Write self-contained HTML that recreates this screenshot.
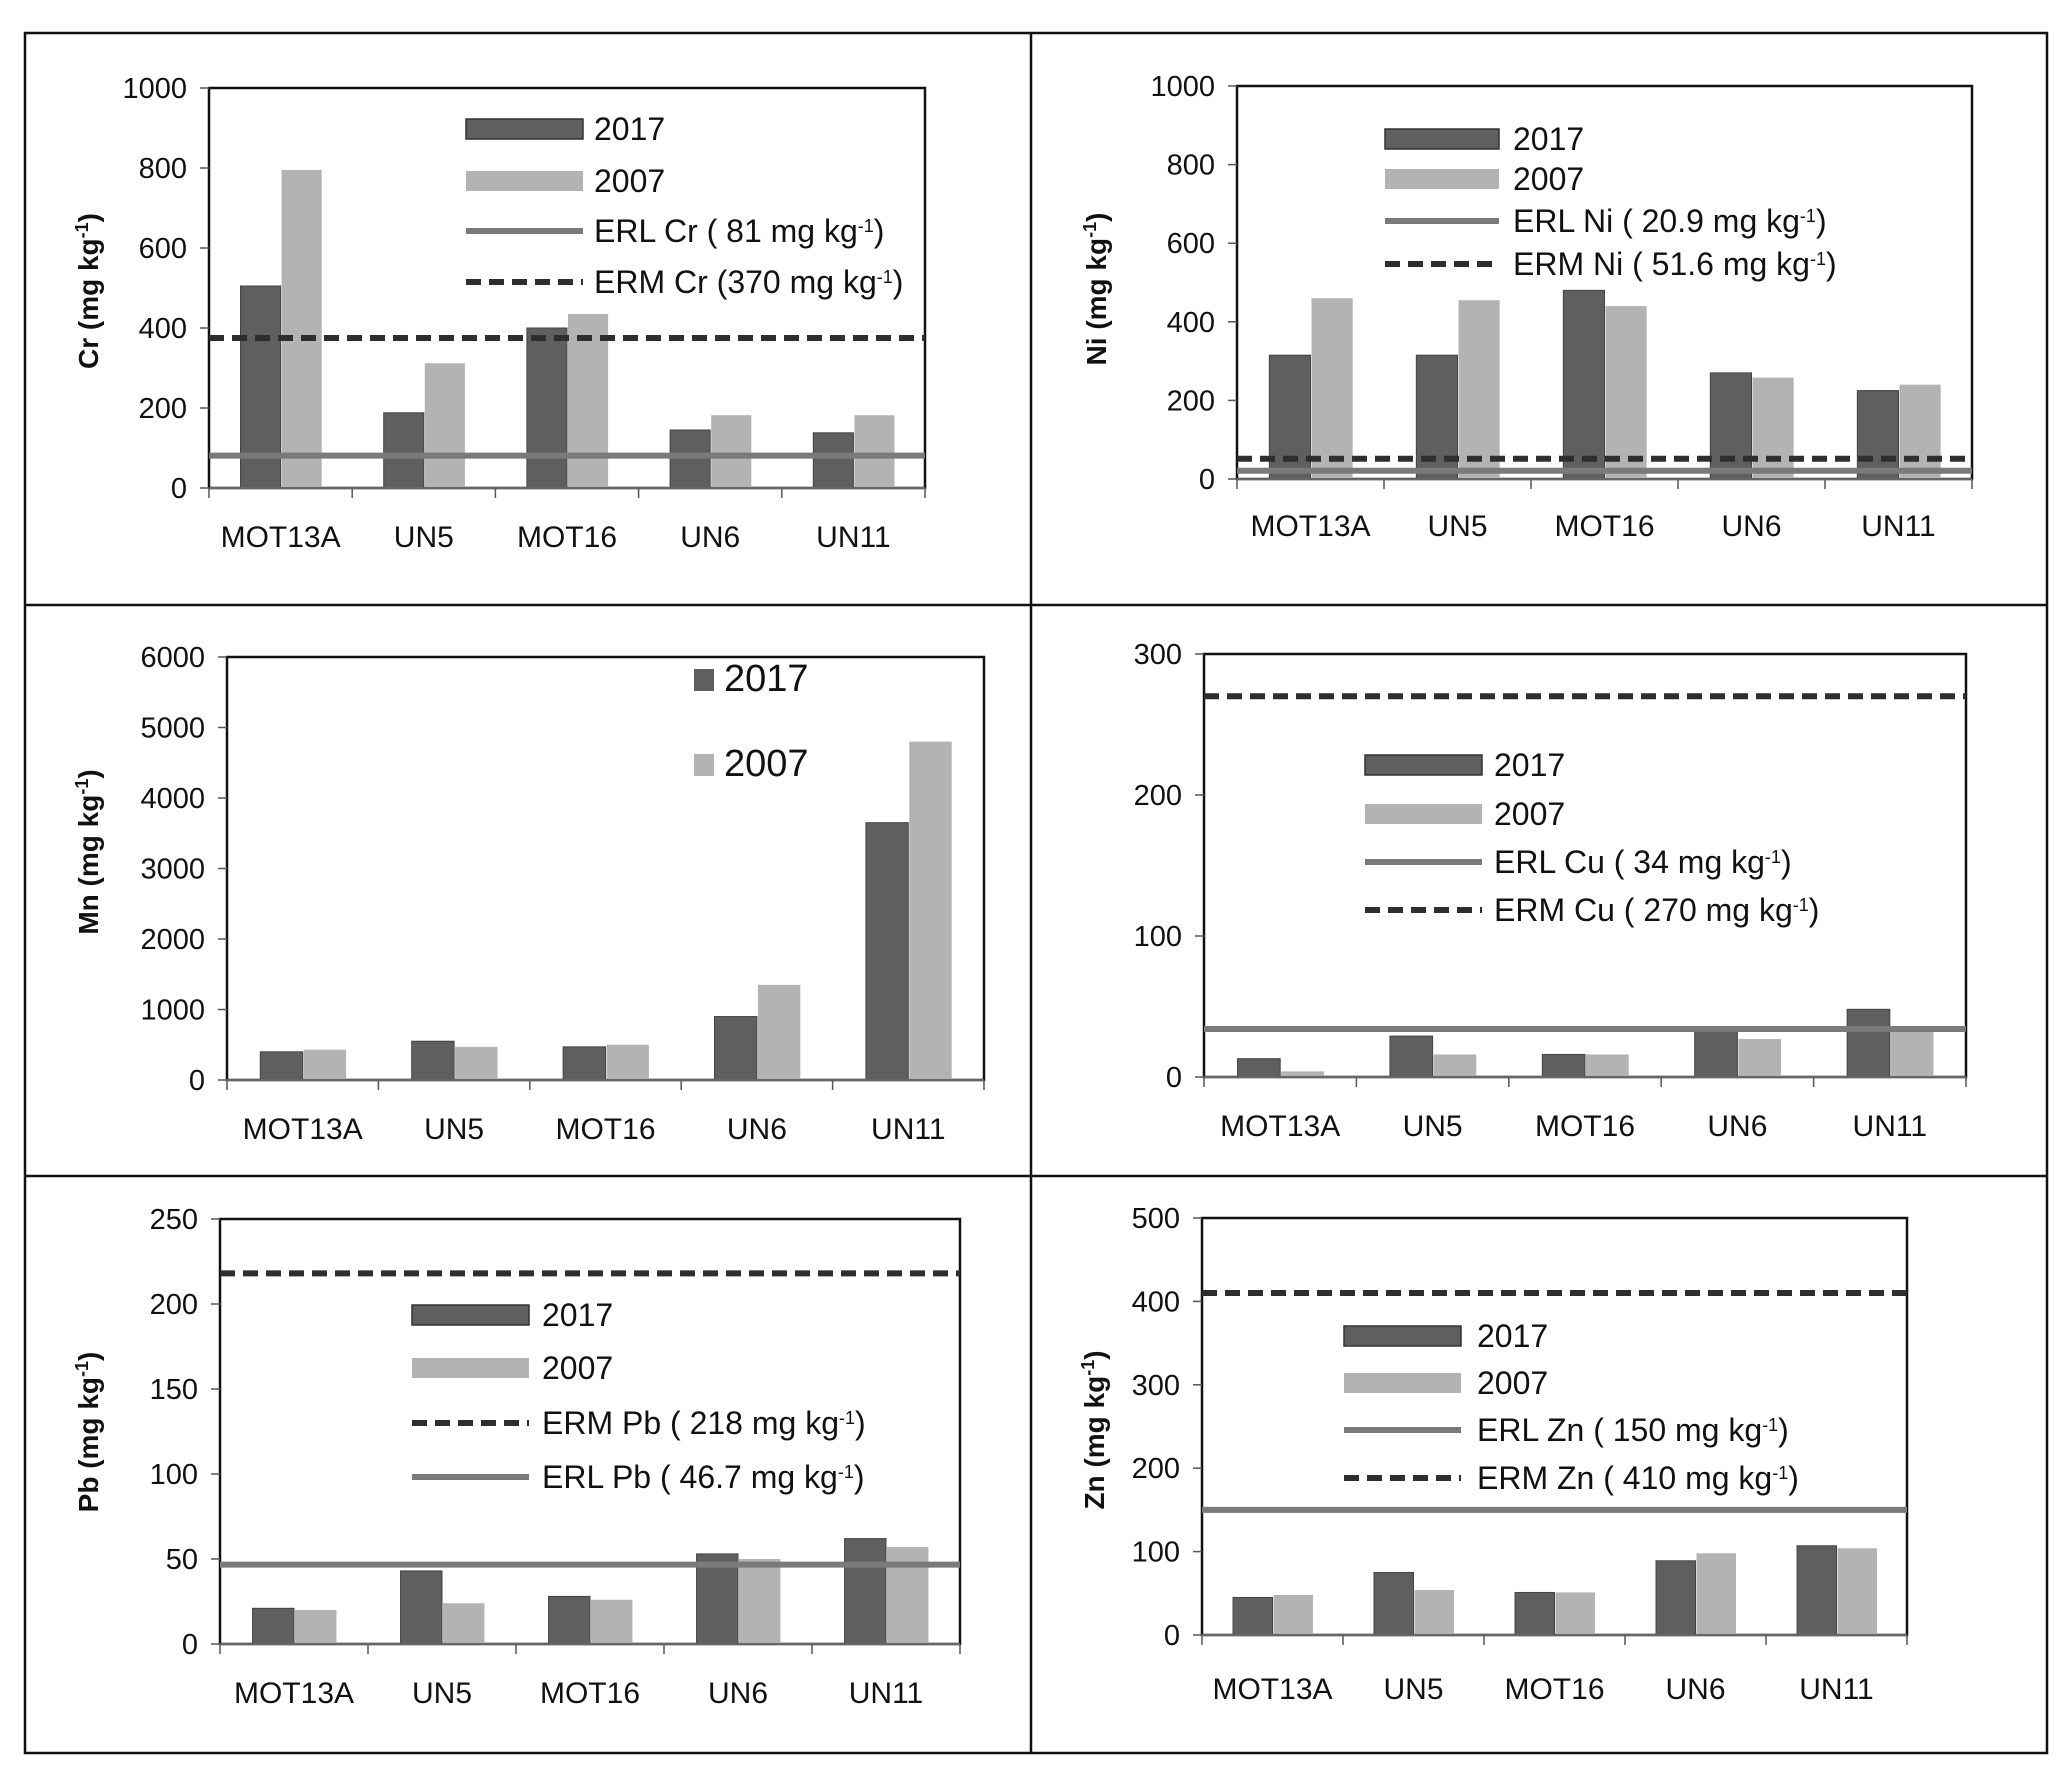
<!DOCTYPE html>
<html><head><meta charset="utf-8">
<style>
body{margin:0;background:#fff;}
svg{display:block;font-family:"Liberation Sans Narrow","Liberation Sans",sans-serif;}
</style></head>
<body>
<svg id="fig" width="2067" height="1781" viewBox="0 0 2067 1781" xmlns="http://www.w3.org/2000/svg">
<rect x="0" y="0" width="2067" height="1781" fill="#fff"/>
<g fill="none" stroke="#111" stroke-width="2.5">
<rect x="25" y="33" width="2022" height="1720"/>
<line x1="1031" y1="33" x2="1031" y2="1753"/>
<line x1="25" y1="605" x2="2047" y2="605"/>
<line x1="25" y1="1176" x2="2047" y2="1176"/>
</g>
</svg>
<script>
const categories = ["MOT13A","UN5","MOT16","UN6","UN11"];
const crY2017 = [505,188,400,145,138];
const crY2007 = [795,312,435,182,182];
const crTicks = [0,200,400,600,800,1000];
const crRefs = [81,375];
const niY2017 = [315,315,480,270,225];
const niY2007 = [460,455,440,258,240];
const niTicks = [0,200,400,600,800,1000];
const niRefs = [20.9,51.6];
const mnY2017 = [400,550,470,900,3650];
const mnY2007 = [430,470,500,1350,4800];
const mnTicks = [0,1000,2000,3000,4000,5000,6000];
const cuY2017 = [13,29,16,33,48];
const cuY2007 = [4,16,16,27,32];
const cuTicks = [0,100,200,300];
const cuRefs = [34,270];
const pbY2017 = [21,43,28,53,62];
const pbY2007 = [20,24,26,50,57];
const pbTicks = [0,50,100,150,200,250];
const pbRefs = [46.7,218];
const znY2017 = [45,75,51,89,107];
const znY2007 = [48,54,51,98,104];
const znTicks = [0,100,200,300,400,500];
const znRefs = [150,410];

const NS="http://www.w3.org/2000/svg";
const svg=document.getElementById('fig');
function mk(tag,attrs,parent){const e=document.createElementNS(NS,tag);for(const k in attrs)e.setAttribute(k,attrs[k]);(parent||svg).appendChild(e);return e;}
const C17="#5f5f5f",C07="#b3b3b3",CERL="#7a7a7a",CERM="#2e2e2e";

function chart(o){
  const g=mk('g',{});
  
  
  const max=o.ticks[o.ticks.length-1];
  const y=v=>o.y0-(v/max)*(o.y0-o.top);
  const bw=(o.right-o.left)/categories.length;
  const x=i=>o.left+bw*i;
  const area=mk('rect',{x:o.left,y:o.top,width:o.right-o.left,height:o.y0-o.top,fill:'none',stroke:'#111','stroke-width':2.5},g);
  
  
  o.ticks.forEach(t=>{
    mk('line',{x1:o.left-9,x2:o.left,y1:y(t),y2:y(t),stroke:'#555','stroke-width':1.5},g);
    const tl=mk('text',{x:o.left-22,y:y(t)+10,'text-anchor':'end','font-size':29,fill:'#111'},g);
    tl.textContent=t;
    
    
  });
  categories.forEach((c,i)=>{
    const cx=x(i)+bw/2, w=bw*0.28;
    const b1=mk('rect',{x:cx-w,y:y(o.s17[i]),width:w,height:o.y0-y(o.s17[i]),fill:C17,stroke:'#444','stroke-width':1},g);
    
    
    const b2=mk('rect',{x:cx+1,y:y(o.s07[i]),width:w,height:o.y0-y(o.s07[i]),fill:C07},g);
    
    
    const cl=mk('text',{x:cx,y:o.labY,'text-anchor':'middle','font-size':30,fill:'#111'},g);
    cl.textContent=c;
    
    
  });
  for(let i=0;i<=categories.length;i++) mk('line',{x1:x(i),x2:x(i),y1:o.y0,y2:o.y0+10,stroke:'#555','stroke-width':1.5},g);
  mk('line',{x1:o.left,x2:o.right,y1:o.y0,y2:o.y0,stroke:'#666','stroke-width':2},g);
  if(o.refs){
    const erl=mk('line',{x1:o.left,x2:o.right,y1:y(o.refs[0]),y2:y(o.refs[0]),stroke:CERL,'stroke-width':6},g);
    
    
    const erm=mk('line',{x1:o.left,x2:o.right,y1:y(o.refs[1]),y2:y(o.refs[1]),stroke:CERM,'stroke-width':6,'stroke-dasharray':'15 8'},g);
    
    
  }
  if(o.title){
    const t=mk('text',{x:0,y:0,transform:`translate(${o.titleX},${o.titleY}) rotate(-90)`,'text-anchor':'middle','font-size':28,'font-weight':'bold',fill:'#111','font-family':'Liberation Sans, sans-serif'},g);
    t.innerHTML=o.title+' (mg kg<tspan dy="-10" font-size="18">-1</tspan><tspan dy="10">)</tspan>';
    
    
  }
  o.legend.forEach((L,i)=>{
    const ly=o.legY[i];
    const lg=mk('g',{},g);
    
    
    if(L.type==='bar17'||L.type==='bar07'){
      if(o.small) mk('rect',{x:o.legX,y:ly-11,width:20,height:22,fill:L.type==='bar17'?C17:C07},lg);
      else mk('rect',{x:o.legX,y:ly-10,width:o.legW,height:20,fill:L.type==='bar17'?C17:C07,stroke:L.type==='bar17'?'#333':'none','stroke-width':1.5},lg);
    } else if(L.type==='erl'){
      mk('line',{x1:o.legX,x2:o.legX+o.legW,y1:ly,y2:ly,stroke:CERL,'stroke-width':6},lg);
    } else {
      mk('line',{x1:o.legX,x2:o.legX+o.legW,y1:ly,y2:ly,stroke:CERM,'stroke-width':6,'stroke-dasharray':'15 8'},lg);
    }
    const t=mk('text',{x:o.legTX,y:ly+11,'font-size':o.small?38:32,fill:'#111'},lg);
    t.innerHTML=L.text;
  });
}
const sup=' mg kg<tspan dy="-10" font-size="18">-1</tspan><tspan dy="10">)</tspan>';
chart({id:'cr',left:209,right:925,top:88,y0:488,ticks:crTicks,s17:crY2017,s07:crY2007,refs:crRefs,labY:547,title:'Cr',titleX:98,titleY:291,
  legX:466,legW:117,legTX:594,legY:[129,181,231,282],
  legend:[{type:'bar17',text:'2017'},{type:'bar07',text:'2007'},{type:'erl',text:'ERL Cr ( 81'+sup},{type:'erm',text:'ERM Cr (370'+sup}]});
chart({id:'ni',left:1237,right:1972,top:86,y0:479,ticks:niTicks,s17:niY2017,s07:niY2007,refs:niRefs,labY:536,title:'Ni',titleX:1106,titleY:289,
  legX:1385,legW:114,legTX:1513,legY:[139,179,221,264],
  legend:[{type:'bar17',text:'2017'},{type:'bar07',text:'2007'},{type:'erl',text:'ERL Ni ( 20.9'+sup},{type:'erm',text:'ERM Ni ( 51.6'+sup}]});
chart({id:'mn',left:227,right:984,top:657,y0:1080,ticks:mnTicks,s17:mnY2017,s07:mnY2007,labY:1139,title:'Mn',titleX:98,titleY:852,
  small:true,legX:694,legW:20,legTX:724,legY:[680,765],
  legend:[{type:'bar17',text:'2017'},{type:'bar07',text:'2007'}]});
chart({id:'cu',left:1204,right:1966,top:654,y0:1077,ticks:cuTicks,s17:cuY2017,s07:cuY2007,refs:cuRefs,labY:1136,
  legX:1365,legW:117,legTX:1494,legY:[765,814,862,910],
  legend:[{type:'bar17',text:'2017'},{type:'bar07',text:'2007'},{type:'erl',text:'ERL Cu ( 34'+sup},{type:'erm',text:'ERM Cu ( 270'+sup}]});
chart({id:'pb',left:220,right:960,top:1219,y0:1644,ticks:pbTicks,s17:pbY2017,s07:pbY2007,refs:pbRefs,labY:1703,title:'Pb',titleX:98,titleY:1432,
  legX:412,legW:117,legTX:542,legY:[1315,1368,1423,1477],
  legend:[{type:'bar17',text:'2017'},{type:'bar07',text:'2007'},{type:'erm',text:'ERM Pb ( 218'+sup},{type:'erl',text:'ERL Pb ( 46.7'+sup}]});
chart({id:'zn',left:1202,right:1907,top:1218,y0:1635,ticks:znTicks,s17:znY2017,s07:znY2007,refs:znRefs,labY:1699,title:'Zn',titleX:1104,titleY:1430,
  legX:1344,legW:117,legTX:1477,legY:[1336,1383,1430,1478],
  legend:[{type:'bar17',text:'2017'},{type:'bar07',text:'2007'},{type:'erl',text:'ERL Zn ( 150'+sup},{type:'erm',text:'ERM Zn ( 410'+sup}]});
</script>
</body></html>
